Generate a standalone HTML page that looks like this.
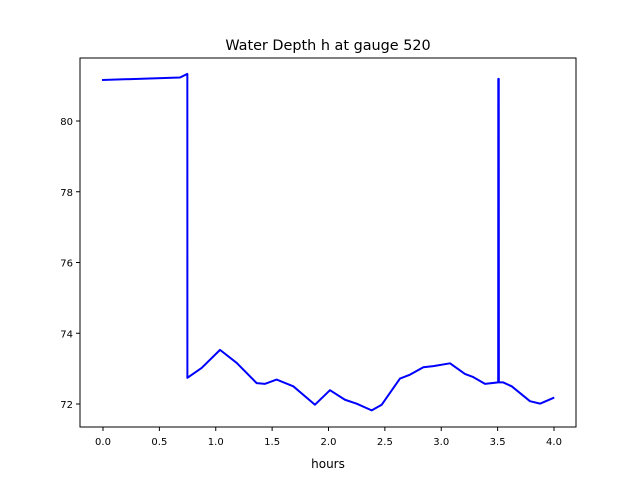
<!DOCTYPE html>
<html><head><meta charset="utf-8"><style>
body{margin:0;background:#fff;}
svg text{font-family:"DejaVu Sans","Liberation Sans",sans-serif;fill:#000;}
</style></head><body>
<svg id="chart" width="640" height="480" viewBox="0 0 640 480" xmlns="http://www.w3.org/2000/svg">
<rect width="640" height="480" fill="#fff"/>
<text x="328" y="50" font-size="14.4" text-anchor="middle">Water Depth h at gauge 520</text>
<g id="plot"></g>
<text x="328" y="468" font-size="12" text-anchor="middle">hours</text>
</svg>
<script>
const times = [0,0.683,0.748,0.7485,0.875,1.038,1.186,1.363,1.437,1.54,1.688,1.88,2.013,2.146,2.25,2.383,2.472,2.634,2.723,2.841,2.93,3.078,3.21,3.284,3.388,3.505,3.506,3.51,3.511,3.55,3.625,3.787,3.876,3.994];
const depths = [81.16,81.23,81.33,72.74,73.02,73.53,73.16,72.59,72.57,72.69,72.50,71.98,72.39,72.12,72.01,71.82,71.98,72.72,72.83,73.04,73.07,73.15,72.85,72.76,72.57,72.61,81.19,81.19,72.61,72.61,72.50,72.08,72.01,72.17];
const xTicks = [0,0.5,1.0,1.5,2.0,2.5,3.0,3.5,4.0];
const xTickLabels = ["0.0","0.5","1.0","1.5","2.0","2.5","3.0","3.5","4.0"];
const yTicks = [72,74,76,78,80];
const yTickLabels = ["72","74","76","78","80"];

const L=80,R=576,T=58,B=427;
const xs=t=>103+(t-0)*(554-103)/4;
const ys=v=>404-(v-72)*(404-121)/8;
const NS="http://www.w3.org/2000/svg";
const g=document.getElementById('plot');
function mk(tag,attrs){const e=document.createElementNS(NS,tag);for(const k in attrs)e.setAttribute(k,attrs[k]);g.appendChild(e);return e;}

let d='';
times.forEach((t,i)=>{d+=(i?'L':'M')+xs(t).toFixed(2)+','+ys(depths[i]).toFixed(2);});
const line=mk('path',{d:d,fill:'none',stroke:'#0000ff','stroke-width':2,'stroke-linejoin':'round','stroke-linecap':'square'});



const frame=mk('rect',{x:L,y:T,width:R-L,height:B-T,fill:'none',stroke:'#000','stroke-width':1});



xTicks.forEach((t,i)=>{
  const x=xs(t);
  const tk=mk('line',{x1:x,y1:B,x2:x,y2:B+4,stroke:'#000','stroke-width':1});
  
  
  const tx=mk('text',{x:x,y:B+18,'font-size':10,'text-anchor':'middle'});
  tx.textContent=xTickLabels[i];
  
  
});
yTicks.forEach((v,i)=>{
  const y=ys(v);
  const tk=mk('line',{x1:L-4,y1:y,x2:L,y2:y,stroke:'#000','stroke-width':1});
  
  
  const tx=mk('text',{x:L-7,y:y+4,'font-size':10,'text-anchor':'end'});
  tx.textContent=yTickLabels[i];
  
  
});
</script>
</body></html>
